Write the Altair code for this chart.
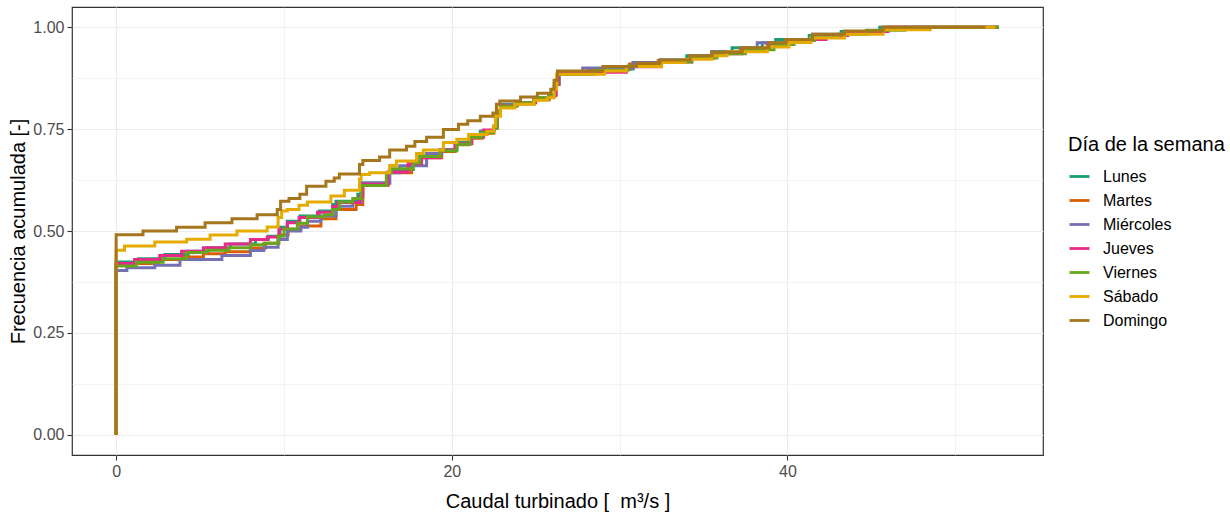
import altair as alt
import pandas as pd

dias = ["Lunes", "Martes", "Miércoles", "Jueves", "Viernes", "Sábado", "Domingo"]
colores = ["#1B9E77", "#D95F02", "#7570B3", "#E7298A", "#66A61E", "#E6AB02", "#A6761D"]

lunes_x = [0, 0, 1.33, 2.9, 4.3, 5.5, 6.8, 8.3, 9.07, 9.76, 10.2, 10.95, 12.1, 12.9, 13.1, 14.4, 14.6, 16.3, 17.7, 18.1, 19.3, 20.3, 21.1, 21.7, 22.5, 22.7, 22.9, 23.85, 24.9, 25.8, 26.2, 26.35, 28.7, 30.8, 32.5, 34.0, 35.5, 36.7, 38.5, 39.3, 41.3, 43.2, 45.5, 52.6]
lunes_y = [0, 0.424, 0.432, 0.442, 0.45, 0.459, 0.468, 0.479, 0.487, 0.509, 0.524, 0.537, 0.549, 0.565, 0.573, 0.59, 0.618, 0.651, 0.667, 0.684, 0.70, 0.717, 0.733, 0.745, 0.757, 0.794, 0.811, 0.815, 0.827, 0.835, 0.863, 0.887, 0.898, 0.91, 0.92, 0.93, 0.94, 0.95, 0.962, 0.97, 0.98, 0.99, 1.0, 1.0]

martes_x = [0, 0, 1.0, 2.5, 3.9, 5.2, 6.5, 8.0, 8.9, 9.7, 10.25, 11.0, 12.2, 13.1, 14.3, 14.7, 16.2, 17.6, 18.2, 19.4, 20.2, 21.0, 21.8, 22.5, 22.7, 22.9, 23.8, 24.9, 25.8, 26.2, 26.4, 28.1, 30.6, 32.3, 34.3, 35.6, 37.2, 38.8, 40.0, 41.6, 43.5, 45.7, 52.6]
martes_y = [0, 0.415, 0.42, 0.43, 0.436, 0.444, 0.449, 0.458, 0.47, 0.49, 0.504, 0.512, 0.53, 0.553, 0.565, 0.612, 0.643, 0.662, 0.68, 0.695, 0.712, 0.728, 0.74, 0.752, 0.79, 0.806, 0.812, 0.822, 0.832, 0.86, 0.885, 0.897, 0.91, 0.918, 0.928, 0.938, 0.948, 0.96, 0.968, 0.98, 0.99, 1.0, 1.0]

miercoles_x = [0, 0, 0.64, 2.3, 3.8, 6.3, 8.0, 8.8, 9.65, 10.2, 11.0, 11.4, 12.2, 13.1, 14.1, 14.6, 16.3, 16.9, 18.5, 19.4, 20.3, 21.1, 21.8, 22.5, 22.7, 22.9, 23.9, 24.9, 25.8, 26.2, 26.4, 27.8, 30.8, 32.4, 34.2, 35.5, 37.3, 38.2, 39.9, 41.5, 43.4, 45.7, 52.6]
miercoles_y = [0, 0.403, 0.41, 0.416, 0.43, 0.44, 0.452, 0.46, 0.479, 0.50, 0.509, 0.524, 0.537, 0.561, 0.57, 0.618, 0.643, 0.66, 0.69, 0.70, 0.714, 0.73, 0.745, 0.757, 0.794, 0.81, 0.815, 0.825, 0.835, 0.862, 0.885, 0.90, 0.914, 0.92, 0.93, 0.94, 0.95, 0.962, 0.97, 0.983, 0.99, 1.0, 1.0]

jueves_x = [0, 0, 1.1, 2.6, 3.9, 5.2, 6.5, 8.0, 9.0, 9.7, 10.2, 10.9, 12.0, 12.9, 13.2, 14.5, 14.7, 16.2, 17.4, 18.2, 19.3, 20.2, 21.2, 21.9, 22.5, 22.7, 22.9, 23.9, 25.0, 25.8, 26.2, 26.35, 30.4, 32.5, 34.3, 35.6, 37.3, 38.9, 40.0, 42.3, 43.6, 46.0, 52.6]
jueves_y = [0, 0.42, 0.43, 0.44, 0.45, 0.459, 0.468, 0.479, 0.485, 0.505, 0.52, 0.533, 0.546, 0.56, 0.57, 0.585, 0.615, 0.645, 0.665, 0.68, 0.698, 0.714, 0.73, 0.748, 0.755, 0.792, 0.808, 0.815, 0.826, 0.834, 0.86, 0.89, 0.903, 0.915, 0.925, 0.935, 0.948, 0.96, 0.97, 0.98, 0.99, 1.0, 1.0]

viernes_x = [0, 0, 1.2, 2.8, 4.2, 5.4, 6.7, 8.0, 8.8, 9.65, 10.0, 10.8, 11.4, 12.4, 12.9, 13.3, 14.1, 14.6, 16.1, 16.4, 17.7, 18.1, 19.3, 20.3, 21.1, 21.8, 22.5, 22.7, 22.9, 23.9, 24.9, 25.8, 26.1, 26.3, 28.5, 30.5, 32.4, 34.3, 35.8, 37.5, 39.2, 40.4, 41.6, 43.0, 44.7, 47.0, 52.6]
viernes_y = [0, 0.414, 0.423, 0.432, 0.447, 0.453, 0.459, 0.466, 0.47, 0.487, 0.505, 0.519, 0.535, 0.54, 0.553, 0.571, 0.58, 0.612, 0.643, 0.653, 0.667, 0.683, 0.697, 0.713, 0.73, 0.742, 0.752, 0.794, 0.807, 0.815, 0.827, 0.835, 0.862, 0.885, 0.895, 0.905, 0.915, 0.925, 0.935, 0.945, 0.958, 0.968, 0.975, 0.983, 0.993, 1.0, 1.0]

sabado_x = [0, 0, 0.5, 2.3, 4.2, 5.6, 7.2, 9.0, 9.65, 9.86, 10.2, 10.9, 11.4, 12.8, 13.6, 14.5, 14.6, 15.1, 16.3, 16.7, 17.9, 18.3, 19.5, 20.3, 21.0, 22.1, 22.5, 22.6, 22.9, 23.75, 24.9, 25.7, 26.1, 26.25, 29.1, 30.4, 32.5, 33.9, 35.5, 36.4, 38.8, 40.1, 41.4, 43.4, 45.7, 48.5, 52.4]
sabado_y = [0, 0.453, 0.463, 0.473, 0.48, 0.49, 0.50, 0.51, 0.533, 0.549, 0.553, 0.563, 0.571, 0.586, 0.60, 0.627, 0.639, 0.643, 0.661, 0.672, 0.69, 0.699, 0.717, 0.725, 0.737, 0.745, 0.757, 0.782, 0.802, 0.811, 0.821, 0.827, 0.848, 0.885, 0.893, 0.904, 0.914, 0.922, 0.93, 0.94, 0.952, 0.963, 0.974, 0.983, 0.994, 1.0, 1.0]

domingo_x = [0, 0, 1.6, 3.6, 5.3, 6.9, 8.4, 9.6, 9.8, 10.3, 10.95, 11.35, 12.5, 13.0, 13.3, 14.5, 14.7, 15.7, 16.3, 17.3, 17.8, 18.5, 19.5, 20.4, 20.95, 21.7, 22.45, 22.66, 22.86, 24.1, 25.1, 25.9, 26.1, 26.3, 29.0, 31.0, 32.4, 34.2, 35.5, 37.3, 38.9, 39.9, 41.5, 43.4, 45.7, 51.8]
domingo_y = [0, 0.491, 0.50, 0.509, 0.52, 0.53, 0.54, 0.553, 0.573, 0.58, 0.59, 0.61, 0.622, 0.63, 0.64, 0.663, 0.673, 0.682, 0.699, 0.708, 0.72, 0.73, 0.749, 0.762, 0.771, 0.782, 0.79, 0.811, 0.819, 0.829, 0.838, 0.848, 0.87, 0.893, 0.904, 0.912, 0.92, 0.93, 0.939, 0.95, 0.962, 0.97, 0.983, 0.991, 1.0, 1.0]

series = {
    "Lunes": (lunes_x, lunes_y),
    "Martes": (martes_x, martes_y),
    "Miércoles": (miercoles_x, miercoles_y),
    "Jueves": (jueves_x, jueves_y),
    "Viernes": (viernes_x, viernes_y),
    "Sábado": (sabado_x, sabado_y),
    "Domingo": (domingo_x, domingo_y),
}

rows = []
for d in dias:
    xs, ys = series[d]
    assert len(xs) == len(ys), d
    for i, (a, b) in enumerate(zip(xs, ys)):
        rows.append({"dia": d, "q": a, "f": b, "i": i})
df = pd.DataFrame(rows)

FONT = "Liberation Sans"

x_axis = alt.Axis(
    values=[0, 10, 20, 30, 40, 50],
    labelExpr="datum.value % 20 === 0 ? datum.label : ''",
    gridWidth={"condition": {"test": "datum.value % 20 === 0", "value": 1.1}, "value": 0.6},
    tickOpacity={"condition": {"test": "datum.value % 20 === 0", "value": 1}, "value": 0},
    title="Caudal turbinado [\u00a0 m³/s ]",
    titlePadding=12,
)
y_axis = alt.Axis(
    values=[0, 0.125, 0.25, 0.375, 0.5, 0.625, 0.75, 0.875, 1.0],
    format=".2f",
    labelExpr="(datum.value * 8) % 2 === 0 ? datum.label : ''",
    gridWidth={"condition": {"test": "(datum.value * 8) % 2 === 0", "value": 1.1}, "value": 0.6},
    tickOpacity={"condition": {"test": "(datum.value * 8) % 2 === 0", "value": 1}, "value": 0},
    title="Frecuencia acumulada [-]",
    titlePadding=4,
)

color = alt.Color(
    "dia:N",
    scale=alt.Scale(domain=dias, range=colores),
    legend=alt.Legend(
        title="Día de la semana",
        orient="none",
        legendX=996,
        legendY=128,
        symbolType="stroke",
        symbolSize=400,
        symbolStrokeWidth=2.8,
        labelOffset=12,
        rowPadding=4,
        titlePadding=10,
    ),
)

layers = []
for d in dias:
    layers.append(
        alt.Chart(df)
        .transform_filter(alt.datum.dia == d)
        .mark_line(interpolate="step-after", strokeWidth=3)
        .encode(
            x=alt.X("q:Q", scale=alt.Scale(domain=[-2.63, 55.23], nice=False, zero=False), axis=x_axis),
            y=alt.Y("f:Q", scale=alt.Scale(domain=[-0.05, 1.05], nice=False, zero=False), axis=y_axis),
            color=color,
            order="i:O",
        )
    )

chart = (
    alt.layer(*layers)
    .properties(
        width=971,
        height=448,
        autosize=alt.AutoSizeParams(type="none"),
        padding={"left": 72, "top": 7, "right": 187, "bottom": 57},
        background="white",
    )
    .configure_view(stroke="#333333", strokeWidth=1.2)
    .configure_axis(
        domain=False,
        gridColor="#EBEBEB",
        tickColor="#333333",
        tickSize=5,
        tickWidth=1.1,
        labelFont=FONT,
        labelFontSize=16,
        labelColor="#4D4D4D",
        labelPadding=3,
        titleFont=FONT,
        titleFontSize=20,
        titleFontWeight="normal",
        titleColor="#000000",
    )
    .configure_legend(
        titleFont=FONT,
        titleFontSize=20,
        titleFontWeight="normal",
        titleColor="#000000",
        labelFont=FONT,
        labelFontSize=16,
        labelColor="#000000",
    )
)

chart.save("out.html", embed_options={"renderer": "svg", "actions": False})
